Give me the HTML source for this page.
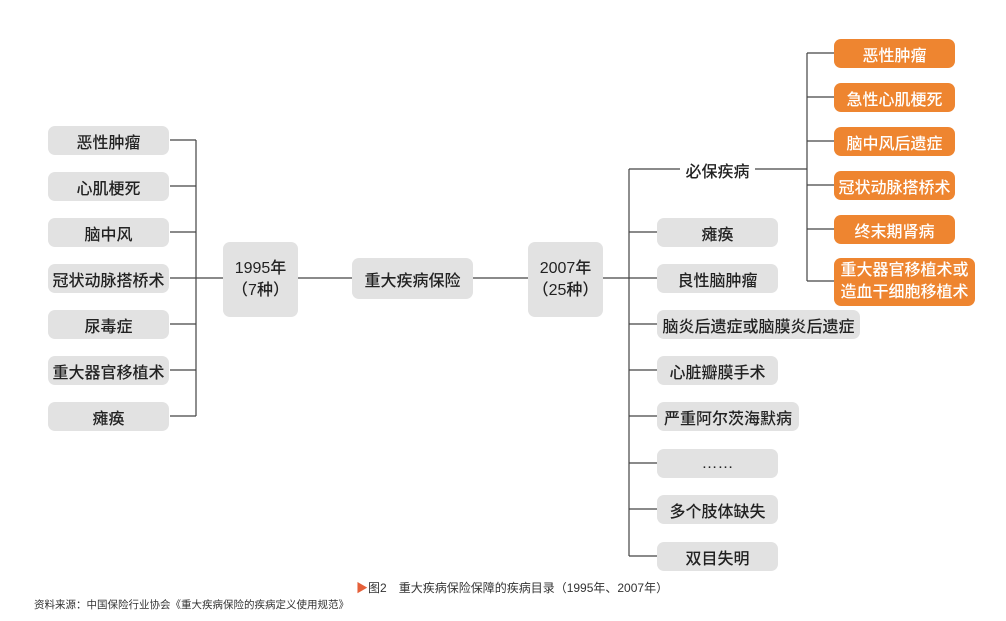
<!DOCTYPE html>
<html><head><meta charset="utf-8"><style>
body{margin:0;width:1006px;height:621px;background:#fff;position:relative;overflow:hidden;font-family:"Liberation Sans","Noto Sans CJK SC",sans-serif;color:#222}
.b{position:absolute;background:#e2e2e2;border-radius:7px;display:flex;align-items:center;justify-content:center;font-size:16px;height:29px;font-weight:500}
.o{background:#ee8530;color:#fff;border-radius:7px}
svg{position:absolute;left:0;top:0}
</style></head><body>
<svg width="1006" height="621">
<g stroke="#444" stroke-width="1.2" fill="none">
<path d="M196 140V416M170 140H196M170 186H196M170 232H196M170 278H223M170 324H196M170 370H196M170 416H196"/>
<path d="M297 278H352M473 278H528M603 278H629"/>
<path d="M629 169V556M629 169H680M755 169H807M629 232H657M629 278H657M629 324H657M629 370H657M629 416H657M629 463H657M629 509H657M629 556H657"/>
<path d="M807 53V281M807 53H834M807 97H834M807 141H834M807 185H834M807 229H834M807 281H834"/>
</g></svg>
<div class="b" style="left:48px;top:126px;width:121px">恶性肿瘤</div>
<div class="b" style="left:48px;top:172px;width:121px">心肌梗死</div>
<div class="b" style="left:48px;top:218px;width:121px">脑中风</div>
<div class="b" style="left:48px;top:264px;width:121px">冠状动脉搭桥术</div>
<div class="b" style="left:48px;top:310px;width:121px">尿毒症</div>
<div class="b" style="left:48px;top:356px;width:121px">重大器官移植术</div>
<div class="b" style="left:48px;top:402px;width:121px">瘫痪</div>
<div class="b" style="left:223px;top:242px;width:75px;height:75px;text-align:center;line-height:22px">1995年<br>（7种）</div>
<div class="b" style="left:352px;top:258px;width:121px;height:41px">重大疾病保险</div>
<div class="b" style="left:528px;top:242px;width:75px;height:75px;text-align:center;line-height:22px">2007年<br>（25种）</div>
<div style="position:absolute;left:680px;top:158px;width:75px;text-align:center;font-size:16px;font-weight:500">必保疾病</div>
<div class="b" style="left:657px;top:218px;width:121px">瘫痪</div>
<div class="b" style="left:657px;top:264px;width:121px">良性脑肿瘤</div>
<div class="b" style="left:657px;top:310px;width:203px">脑炎后遗症或脑膜炎后遗症</div>
<div class="b" style="left:657px;top:356px;width:121px">心脏瓣膜手术</div>
<div class="b" style="left:657px;top:402px;width:142px">严重阿尔茨海默病</div>
<div class="b" style="left:657px;top:449px;width:121px">……</div>
<div class="b" style="left:657px;top:495px;width:121px">多个肢体缺失</div>
<div class="b" style="left:657px;top:542px;width:121px">双目失明</div>
<div class="b o" style="left:834px;top:39px;width:121px">恶性肿瘤</div>
<div class="b o" style="left:834px;top:83px;width:121px">急性心肌梗死</div>
<div class="b o" style="left:834px;top:127px;width:121px">脑中风后遗症</div>
<div class="b o" style="left:834px;top:171px;width:121px">冠状动脉搭桥术</div>
<div class="b o" style="left:834px;top:215px;width:121px">终末期肾病</div>
<div class="b o" style="left:834px;top:258px;width:141px;height:48px;text-align:center;line-height:22px">重大器官移植术或<br>造血干细胞移植术</div>
<div style="position:absolute;left:356px;top:579px;font-size:12px;color:#333"><span style="color:#e5603a">▶</span>图2　重大疾病保险保障的疾病目录（1995年、2007年）</div>
<div style="position:absolute;left:34px;top:597px;font-size:10.5px;color:#333">资料来源：中国保险行业协会《重大疾病保险的疾病定义使用规范》</div>
</body></html>
